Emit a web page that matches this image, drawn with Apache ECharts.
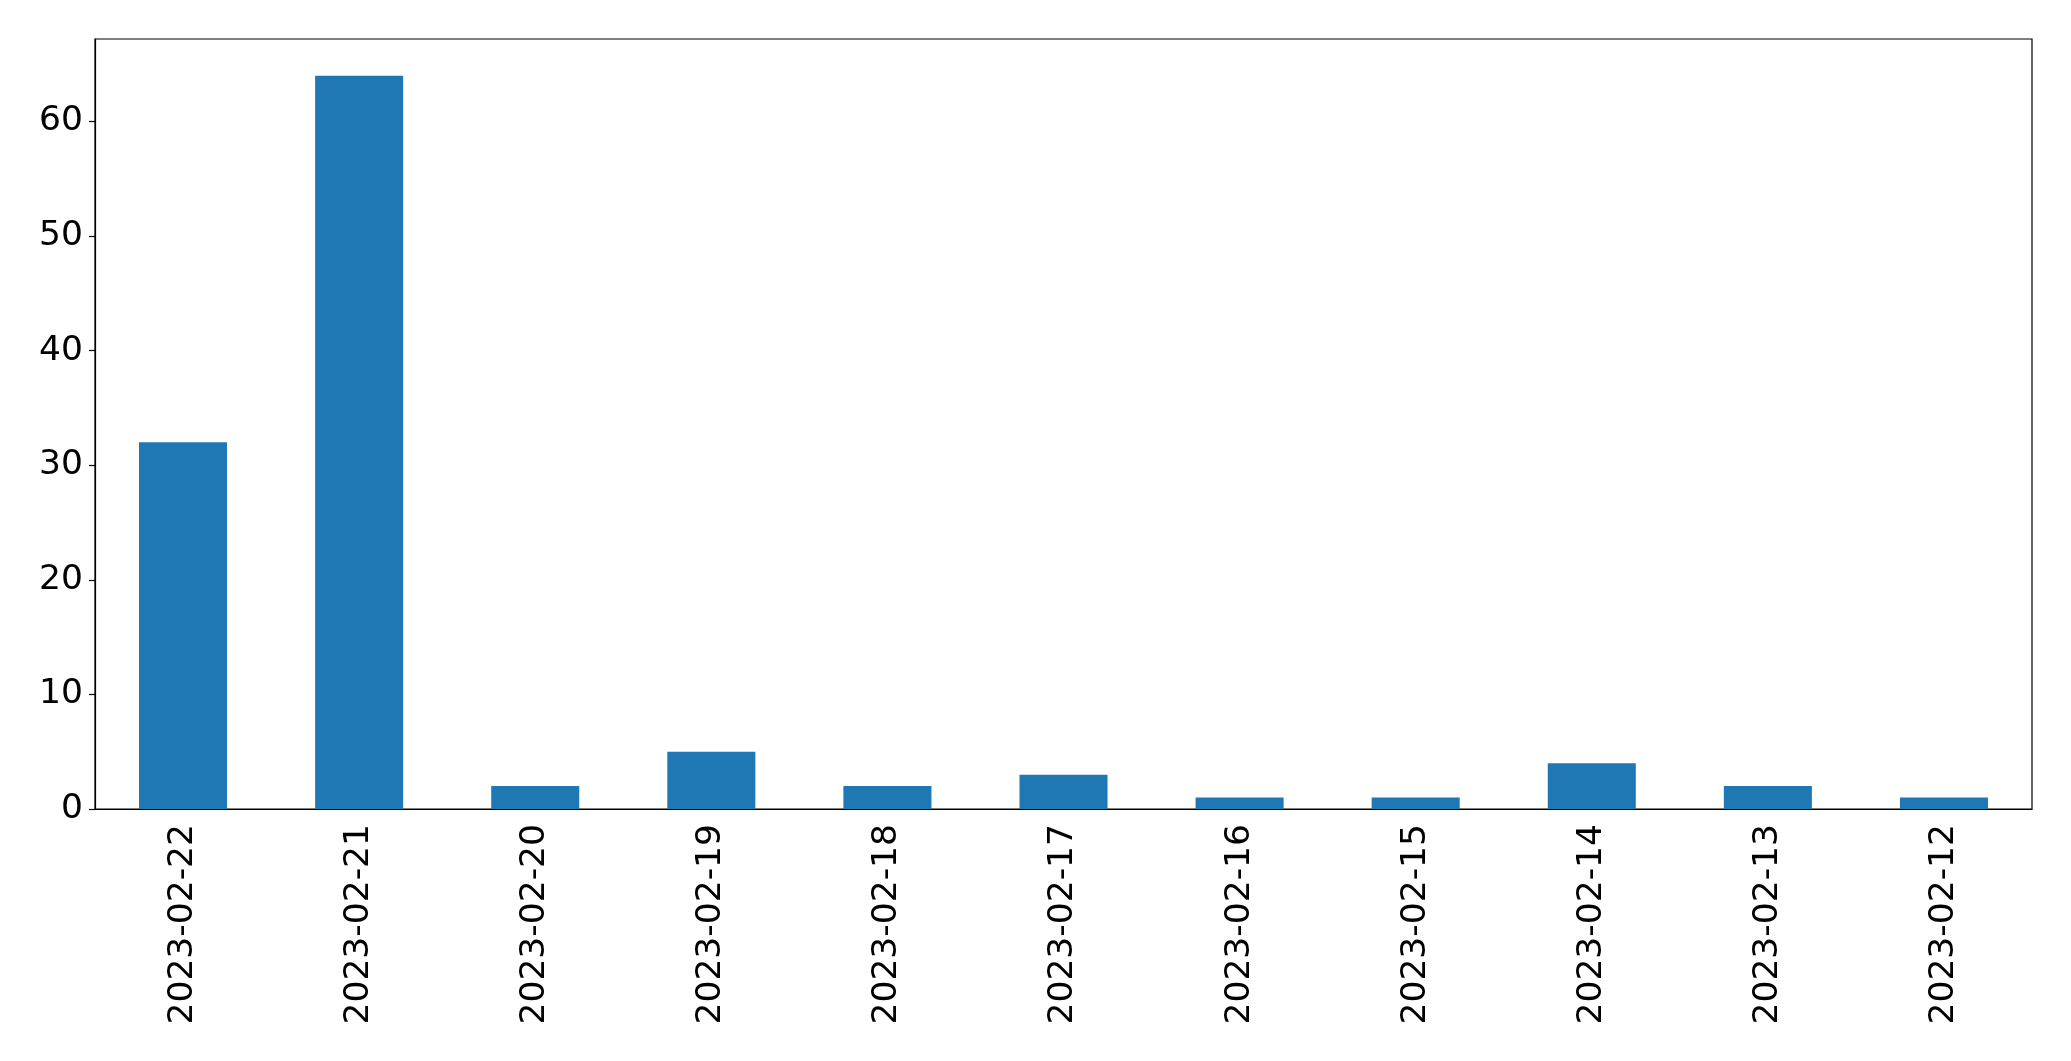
<!DOCTYPE html>
<html>
<head>
<meta charset="utf-8">
<script src="https://cdn.jsdelivr.net/npm/echarts@6/dist/echarts.min.js"></script>
<style>html,body{margin:0;padding:0;background:#fff;}#c{width:2071px;height:1061px;}</style>
</head>
<body>
<div id="c"></div>
<script>
const categories = ["2023-02-22","2023-02-21","2023-02-20","2023-02-19","2023-02-18","2023-02-17","2023-02-16","2023-02-15","2023-02-14","2023-02-13","2023-02-12"];
const values = [32, 64, 2, 5, 2, 3, 1, 1, 4, 2, 1];
const yTicks = [0, 10, 20, 30, 40, 50, 60];

const chart = echarts.init(document.getElementById('c'), null, {renderer: 'canvas'});
const font = 'DejaVu Sans';
chart.setOption({
  animation: false,
  backgroundColor: '#ffffff',
  grid: {left: 95, top: 39, right: 39, bottom: 252, show: true, borderColor: '#000', borderWidth: 1.2, backgroundColor: 'transparent'},
  xAxis: {
    type: 'category',
    data: categories,
    boundaryGap: true,
    axisLine: {lineStyle: {color: '#000', width: 1.2}},
    axisTick: {alignWithLabel: true, length: 6, lineStyle: {color: '#000', width: 1.2}},
    axisLabel: {rotate: 90, fontFamily: font, fontSize: 34.5, color: '#000', margin: 15, interval: 0}
  },
  yAxis: {
    type: 'value',
    min: 0,
    max: 67.2,
    interval: 10,
    splitLine: {show: false},
    axisLine: {show: true, lineStyle: {color: '#000', width: 1.2}},
    axisTick: {show: true, length: 6, customValues: yTicks, lineStyle: {color: '#000', width: 1.2}},
    axisLabel: {fontFamily: font, fontSize: 34.5, color: '#000', margin: 12, padding: [6, 0, 0, 0], customValues: yTicks}
  },
  series: [{
    type: 'bar',
    data: values,
    barWidth: '50%',
    itemStyle: {color: '#1f77b4'}
  }]
});
</script>
</body>
</html>
